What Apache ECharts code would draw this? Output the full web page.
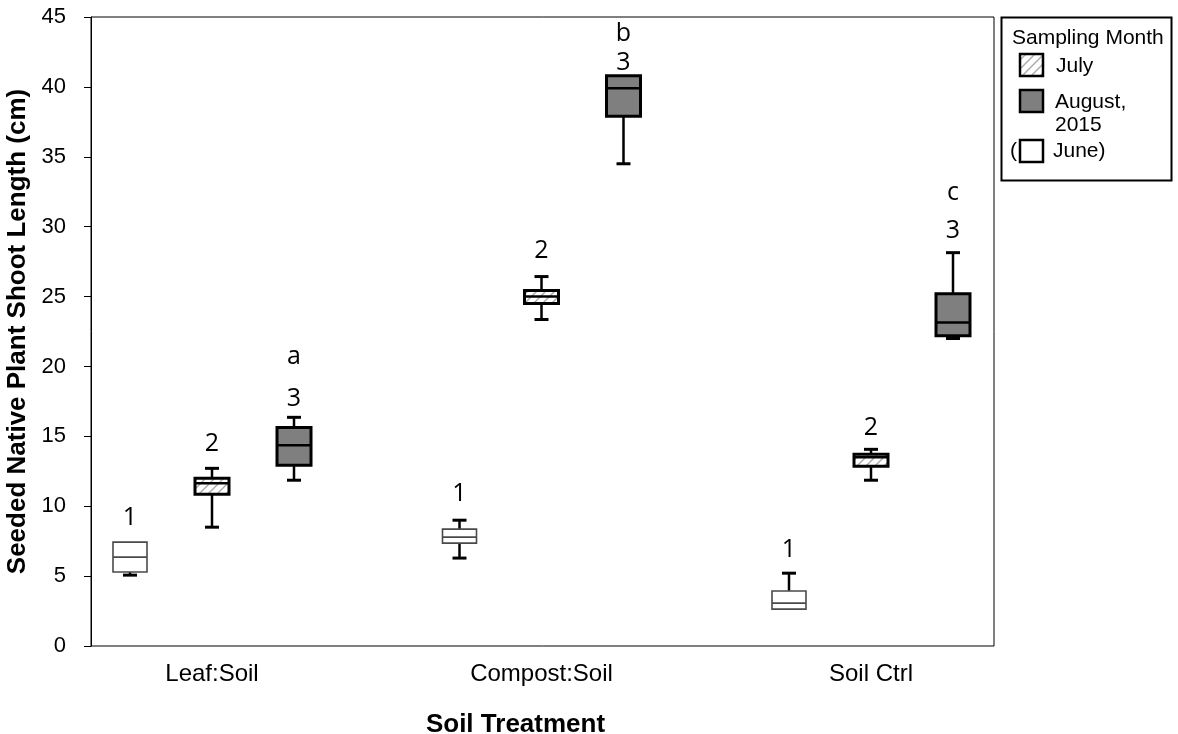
<!DOCTYPE html>
<html>
<head>
<meta charset="utf-8">
<script src="https://cdn.jsdelivr.net/npm/echarts@6/dist/echarts.min.js"></script>
<style>
  html, body { margin: 0; padding: 0; background: #fff; }
  #chart { width: 1178px; height: 734px; }
</style>
</head>
<body>
<div id="chart"></div>
<script>
// Soil treatments on the x axis
const categories = ['Leaf:Soil', 'Compost:Soil', 'Soil Ctrl'];
const monthNames = ['June', 'July', 'August, 2015'];

// Box statistics per treatment: [min, Q1, median, Q3, max] (cm)
const juneStats = [
  [5.07, 5.29, 6.36, 7.43, 7.43],
  [6.29, 7.36, 7.79, 8.36, 9.0],
  [2.64, 2.64, 3.07, 3.93, 5.21]
];
const julyStats = [
  [8.5, 10.86, 11.64, 12.0, 12.71],
  [23.36, 24.5, 25.0, 25.43, 26.43],
  [11.86, 12.86, 13.5, 13.71, 14.07]
];
const augustStats = [
  [11.86, 12.93, 14.36, 15.64, 16.36],
  [34.5, 37.9, 39.9, 40.8, 40.8],
  [22.0, 22.2, 23.14, 25.2, 28.14]
];

// Annotations: month rank above each box, significance letter above August
const rankLabels = ['1', '2', '3'];
const groupLetters = ['a', 'b', 'c'];

const yTicks = { min: 0, max: 45, step: 5 };

// ---- styling / layout ----
const hatchCanvas = (function () {
  const c = document.createElement('canvas');
  c.width = 9; c.height = 9;
  const g = c.getContext('2d');
  g.fillStyle = '#ffffff';
  g.fillRect(0, 0, 9, 9);
  g.strokeStyle = '#a8a8a8';
  g.lineWidth = 1.4;
  g.beginPath();
  g.moveTo(0, 9); g.lineTo(9, 0);
  g.moveTo(-3, 3); g.lineTo(3, -3);
  g.moveTo(6, 12); g.lineTo(12, 6);
  g.stroke();
  return c;
})();
const hatchFill = { image: hatchCanvas, repeat: 'repeat' };

const monthStyle = [
  { fill: '#ffffff', stroke: '#4a4a4a', lineWidth: 1.6, median: '#4a4a4a', medianWidth: 1.6 },
  { fill: hatchFill, stroke: '#000000', lineWidth: 3, median: '#000000', medianWidth: 2.5 },
  { fill: '#7f7f7f', stroke: '#000000', lineWidth: 3, median: '#000000', medianWidth: 2.5 }
];
const monthShift = [-82, 0, 82];   // px offset of each month's box from the group centre
const boxHalf = 17;
const capHalf = 7;
// px gap between whisker top and rank label, per month then treatment
const rankLift = [[24, 26, 23], [24, 26, 21], [18, 13, 22]];
const letterLift = [42, 29, 38];
const annotFont = '25px "Open Sans", sans-serif';

function renderBox(params, api) {
  const m = params.seriesIndex;
  const st = monthStyle[m];
  const ci = api.value(0);
  const vMin = api.value(1), q1 = api.value(2), med = api.value(3), q3 = api.value(4), vMax = api.value(5);
  const cx = api.coord([ci, 0])[0] + monthShift[m];
  const y = v => api.coord([ci, v])[1];
  const children = [];
  const line = (x1, y1, x2, y2, w) => ({
    type: 'line', shape: { x1, y1, x2, y2 },
    style: { stroke: '#000', lineWidth: w, lineCap: 'butt' }
  });
  if (vMax > q3) {
    children.push(line(cx, y(vMax), cx, y(q3), 2.5));
    children.push(line(cx - capHalf, y(vMax), cx + capHalf, y(vMax), 3));
  }
  if (vMin < q1) {
    children.push(line(cx, y(q1), cx, y(vMin), 2.5));
    children.push(line(cx - capHalf, y(vMin), cx + capHalf, y(vMin), 3));
  }
  children.push({
    type: 'rect',
    shape: { x: cx - boxHalf, y: y(q3), width: boxHalf * 2, height: y(q1) - y(q3) },
    style: { fill: st.fill, stroke: st.stroke, lineWidth: st.lineWidth }
  });
  children.push({
    type: 'line',
    shape: { x1: cx - boxHalf, y1: y(med), x2: cx + boxHalf, y2: y(med) },
    style: { stroke: st.median, lineWidth: st.medianWidth }
  });
  const rankY = y(vMax) - rankLift[m][ci];
  children.push({
    type: 'text',
    style: { text: rankLabels[m], x: cx, y: rankY, align: 'center', verticalAlign: 'middle',
             textAlign: 'center', textVerticalAlign: 'middle', font: annotFont, fill: '#000' }
  });
  if (m === 2) {
    children.push({
      type: 'text',
      style: { text: groupLetters[ci], x: cx, y: rankY - letterLift[ci], align: 'center', verticalAlign: 'middle',
               textAlign: 'center', textVerticalAlign: 'middle', font: annotFont, fill: '#000' }
    });
  }
  return { type: 'group', children };
}

function toSeriesData(stats) {
  return stats.map((s, i) => [i].concat(s));
}

const allStats = [juneStats, julyStats, augustStats];

const series = allStats.map((stats, m) => ({
  type: 'custom',
  name: monthNames[m],
  xAxisIndex: 1,
  yAxisIndex: 1,
  clip: false,
  renderItem: renderBox,
  encode: { x: 0, y: [1, 2, 3, 4, 5] },
  data: toSeriesData(stats)
}));

// Legend panel (drawn as a framed block with swatches)
const legendFont = '21px "Liberation Sans", Arial, sans-serif';
const txt = (text, x, y) => ({
  type: 'text',
  style: { text, x, y, font: legendFont, fill: '#000',
           align: 'left', verticalAlign: 'middle', textAlign: 'left', textVerticalAlign: 'middle' }
});
const legendGraphic = {
  type: 'group',
  children: [
    { type: 'rect', shape: { x: 1001.5, y: 17.5, width: 170, height: 163 },
      style: { fill: '#fff', stroke: '#000', lineWidth: 2 } },
    txt('Sampling Month', 1012, 38),
    { type: 'rect', shape: { x: 1020, y: 54, width: 23, height: 22 },
      style: { fill: hatchFill, stroke: '#000', lineWidth: 2.5 } },
    txt('July', 1056, 66),
    { type: 'rect', shape: { x: 1020, y: 90, width: 23, height: 22 },
      style: { fill: '#7f7f7f', stroke: '#000', lineWidth: 2.5 } },
    txt('August,', 1055, 102),
    txt('2015', 1055, 125),
    txt('(', 1010, 151),
    { type: 'rect', shape: { x: 1020, y: 140, width: 23, height: 22 },
      style: { fill: '#ffffff', stroke: '#000', lineWidth: 2.5 } },
    txt('June)', 1053, 151)
  ]
};

const chart = echarts.init(document.getElementById('chart'), null, { renderer: 'canvas' });
chart.setOption({
  animation: false,
  backgroundColor: '#ffffff',
  textStyle: { fontFamily: '"Liberation Sans", Arial, sans-serif' },
  grid: [
    { left: 91, right: 184, top: 17, bottom: 88, containLabel: false, outerBoundsMode: 'none',
      show: true, borderColor: '#000', borderWidth: 1, backgroundColor: 'transparent' },
    { left: 212, right: 307, top: 17, bottom: 88, containLabel: false, outerBoundsMode: 'none' }
  ],
  xAxis: [
    { gridIndex: 0, type: 'value', min: 0, max: 1, show: false },
    {
      gridIndex: 1, type: 'category', data: categories, boundaryGap: false,
      axisLine: { show: false }, axisTick: { show: false },
      axisLabel: { fontSize: 24, color: '#000', margin: 16, interval: 0 },
      name: 'Soil Treatment', nameLocation: 'middle', nameGap: 66,
      nameTextStyle: { fontWeight: 'bold', fontSize: 26, color: '#000', padding: [0, 52, 0, 0] }
    }
  ],
  yAxis: [
    {
      gridIndex: 0, type: 'value', min: yTicks.min, max: yTicks.max, interval: yTicks.step,
      axisLine: { show: true, lineStyle: { color: '#000', width: 1 } },
      axisTick: { show: true, length: 7, lineStyle: { color: '#000', width: 1 } },
      axisLabel: { fontSize: 22, color: '#000', margin: 25 },
      splitLine: { show: false },
      name: 'Seeded Native Plant Shoot Length (cm)', nameLocation: 'middle', nameGap: 57,
      nameTextStyle: { fontWeight: 'bold', fontSize: 26, color: '#000' }
    },
    { gridIndex: 1, type: 'value', min: yTicks.min, max: yTicks.max, show: false }
  ],
  graphic: [legendGraphic],
  series
});
</script>
</body>
</html>
